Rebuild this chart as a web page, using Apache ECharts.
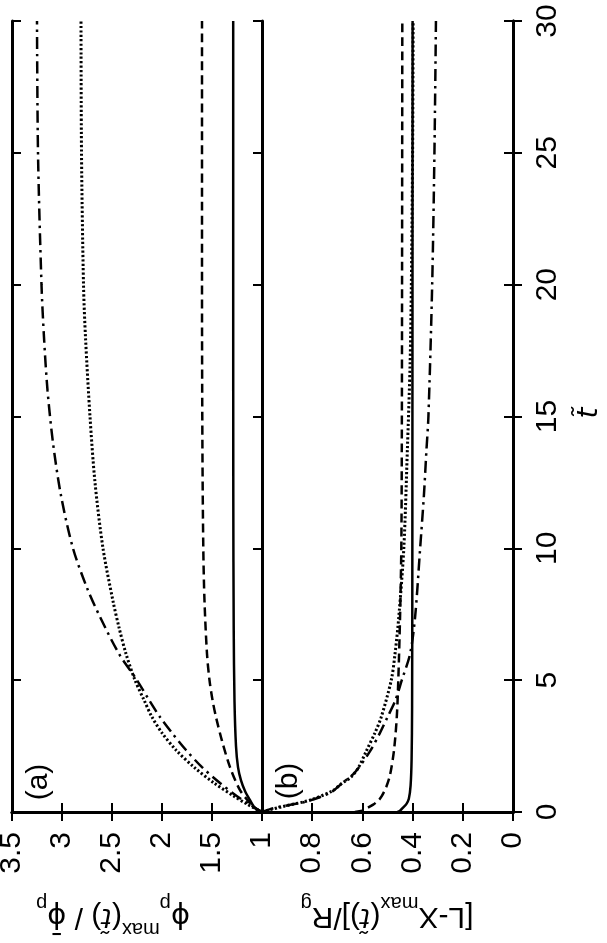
<!DOCTYPE html>
<html><head><meta charset="utf-8">
<script src="https://cdn.jsdelivr.net/npm/echarts@6/dist/echarts.min.js"></script>
<style>html,body{margin:0;padding:0;background:#fff}#c{width:607px;height:943px}</style>
</head><body><div id="c"></div>
<script>
// ---- Panel (a): phi_p^max(t) / phibar_p ----
const aSolidT = [0, 0.08, 0.2, 0.45, 0.8, 1.2, 1.7, 2.5, 4.2, 7, 12, 20, 30];
const aSolidV = [1.0, 1.04, 1.08, 1.12, 1.17, 1.21, 1.24, 1.26, 1.275, 1.283, 1.287, 1.288, 1.288];
const aDashT = [0, 0.08, 0.34, 0.83, 1.7, 2.7, 3.6, 4.25, 5, 6, 8, 10, 14, 20, 30];
const aDashV = [1.0, 1.05, 1.12, 1.22, 1.32, 1.40, 1.46, 1.495, 1.525, 1.55, 1.575, 1.587, 1.596, 1.60, 1.60];
const aDotT = [0, 0.3, 0.6, 1.1, 1.7, 2.35, 3, 3.6, 4.25, 5, 6, 7, 8, 10, 12.5, 15, 18, 20, 25, 30];
const aDotV = [1.0, 1.15, 1.28, 1.48, 1.68, 1.86, 2.0, 2.1, 2.18, 2.27, 2.36, 2.43, 2.49, 2.59, 2.67, 2.72, 2.765, 2.785, 2.805, 2.81];
const aDDT = [0, 0.3, 0.6, 1.1, 1.7, 2.35, 3, 3.6, 4.25, 5, 6, 7.4, 8.5, 10, 12, 14, 16, 18, 20, 25, 30];
const aDDV = [1.0, 1.13, 1.25, 1.42, 1.6, 1.76, 1.9, 2.02, 2.13, 2.25, 2.43, 2.62, 2.75, 2.89, 3.01, 3.09, 3.145, 3.18, 3.205, 3.24, 3.25];

// ---- Panel (b): [L - X_max(t)] / R_g ----
const bSolidT = [0, 0.05, 0.15, 0.3, 0.5, 1, 2, 4, 10, 30];
const bSolidV = [0.46, 0.45, 0.44, 0.425, 0.415, 0.408, 0.404, 0.402, 0.401, 0.40];
const bDashT = [0, 0.05, 0.1, 0.28, 0.45, 0.6, 0.95, 1.4, 2.35, 3.6, 5, 7.4, 10, 14, 20, 30];
const bDashV = [0.63, 0.60, 0.59, 0.557, 0.535, 0.523, 0.505, 0.49, 0.474, 0.463, 0.457, 0.45, 0.445, 0.443, 0.442, 0.441];
const bDotT = [0, 0.08, 0.2, 0.45, 0.8, 1.1, 1.33, 1.7, 2.3, 3, 3.6, 5, 6, 7.4, 10, 13.7, 17, 20, 25, 30];
const bDotV = [1.0, 0.97, 0.92, 0.81, 0.72, 0.68, 0.645, 0.615, 0.585, 0.55, 0.525, 0.485, 0.47, 0.455, 0.435, 0.421, 0.41, 0.405, 0.40, 0.398];
const bDDT = [0, 0.1, 0.2, 0.38, 0.72, 1.1, 1.5, 2.3, 3, 3.6, 4.2, 5, 6, 7.4, 10, 12, 13.7, 15, 20, 25, 30];
const bDDV = [1.0, 0.97, 0.93, 0.83, 0.73, 0.68, 0.63, 0.57, 0.53, 0.50, 0.47, 0.443, 0.41, 0.39, 0.37, 0.355, 0.345, 0.337, 0.322, 0.313, 0.307];

const FONT = 'Liberation Sans';
const chart = echarts.init(document.getElementById('c'), null, {renderer: 'canvas'});
const pairs = (v, t) => t.map((tt, i) => [v[i], tt]);

const frame = {show: true, lineStyle: {color: '#000', width: 3}};
const tick = {show: true, inside: true, length: 9, lineStyle: {color: '#000', width: 2}};
const noLab = {show: false};
const labStyle = {color: '#000', fontFamily: FONT, fontSize: 30};

function xAx(grid, min, max, interval, pos, showLab, hideMax) {
  return {
    type: 'value', gridIndex: grid, min: min, max: max, interval: interval, inverse: true,
    position: pos, axisLine: frame, axisTick: tick, splitLine: {show: false},
    axisLabel: showLab ? Object.assign({rotate: 90, margin: 20,
      formatter: v => (hideMax && v === max) ? '' : String(v)}, labStyle) : noLab
  };
}
function yAx(grid, pos, showLab) {
  return {
    type: 'value', gridIndex: grid, min: 0, max: 30, interval: 5, position: pos,
    axisLine: frame, axisTick: tick, splitLine: {show: false},
    axisLabel: showLab ? Object.assign({rotate: 90, margin: 20}, labStyle) : noLab
  };
}
function line(name, xi, yi, data, type, width) {
  return {
    name: name, type: 'line', xAxisIndex: xi, yAxisIndex: yi, data: data,
    showSymbol: false, symbol: 'none', smooth: 0.3, clip: true,
    lineStyle: {color: '#000', width: width, type: type, cap: 'butt'}, z: 3
  };
}
const DASH = [9, 5], DOT = [2.2, 2.2], DASHDOT = [12, 5, 2.5, 5];

const rich = {
  b: {fontFamily: FONT, fontSize: 30, lineHeight: 46, color: '#000'},
  ph: {fontFamily: 'DejaVu Sans', fontSize: 29, lineHeight: 46, color: '#000'},
  i: {fontFamily: 'DejaVu Sans', fontSize: 27, lineHeight: 46, fontStyle: 'italic', color: '#000'},
  sub: {fontFamily: FONT, fontSize: 20, lineHeight: 20, verticalAlign: 'bottom', color: '#000'},
  sup: {fontFamily: FONT, fontSize: 20, lineHeight: 20, verticalAlign: 'top', color: '#000'}
};

chart.setOption({
  animation: false,
  backgroundColor: '#fff',
  grid: [
    {left: 12, top: 21, width: 250, height: 791, outerBoundsMode: 'none', containLabel: false},
    {left: 262, top: 21, width: 251, height: 791, outerBoundsMode: 'none', containLabel: false}
  ],
  xAxis: [
    xAx(0, 1, 3.5, 0.5, 'bottom', true, false),
    xAx(0, 1, 3.5, 0.5, 'top', false, false),
    xAx(1, 0, 1, 0.2, 'bottom', true, true),
    xAx(1, 0, 1, 0.2, 'top', false, false)
  ],
  yAxis: [
    yAx(0, 'left', false),
    yAx(0, 'right', false),
    yAx(1, 'left', false),
    yAx(1, 'right', true)
  ],
  series: [
    line('a solid', 0, 0, pairs(aSolidV, aSolidT), 'solid', 2.5),
    line('a dashed', 0, 0, pairs(aDashV, aDashT), DASH, 2.5),
    line('a dotted', 0, 0, pairs(aDotV, aDotT), DOT, 3),
    line('a dashdot', 0, 0, pairs(aDDV, aDDT), DASHDOT, 2.5),
    line('b solid', 2, 3, pairs(bSolidV, bSolidT), 'solid', 2.5),
    line('b dashed', 2, 3, pairs(bDashV, bDashT), DASH, 2.5),
    line('b dotted', 2, 3, pairs(bDotV, bDotT), DOT, 3),
    line('b dashdot', 2, 3, pairs(bDDV, bDDT), DASHDOT, 2.5)
  ],
  graphic: [
    {type: 'text', x: 39, y: 782, rotation: Math.PI / 2,
      style: {text: '(a)', font: '30px "Liberation Sans"', fill: '#000', align: 'center', verticalAlign: 'middle'}},
    {type: 'text', x: 289, y: 781, rotation: Math.PI / 2,
      style: {text: '(b)', font: '30px "Liberation Sans"', fill: '#000', align: 'center', verticalAlign: 'middle'}},
    {type: 'text', x: 590, y: 413, rotation: Math.PI / 2,
      style: {text: 't\u0303', font: 'italic 28px "DejaVu Sans"', fill: '#000', align: 'center', verticalAlign: 'middle'}},
    {type: 'text', x: 113, y: 916, rotation: Math.PI,
      style: {text: '{ph|\u03d5}{sub|p}{sup|max}{b|(}{i|t\u0303}{b|) / }{ph|\u03d5\u0304}{sub|p}', rich: rich,
        align: 'center', verticalAlign: 'middle'}},
    {type: 'text', x: 387, y: 916, rotation: Math.PI,
      style: {text: '{b|[L-X}{sub|max}{b|(}{i|t\u0303}{b|)]/R}{sub|g}', rich: rich,
        align: 'center', verticalAlign: 'middle'}}
  ]
});
</script></body></html>
